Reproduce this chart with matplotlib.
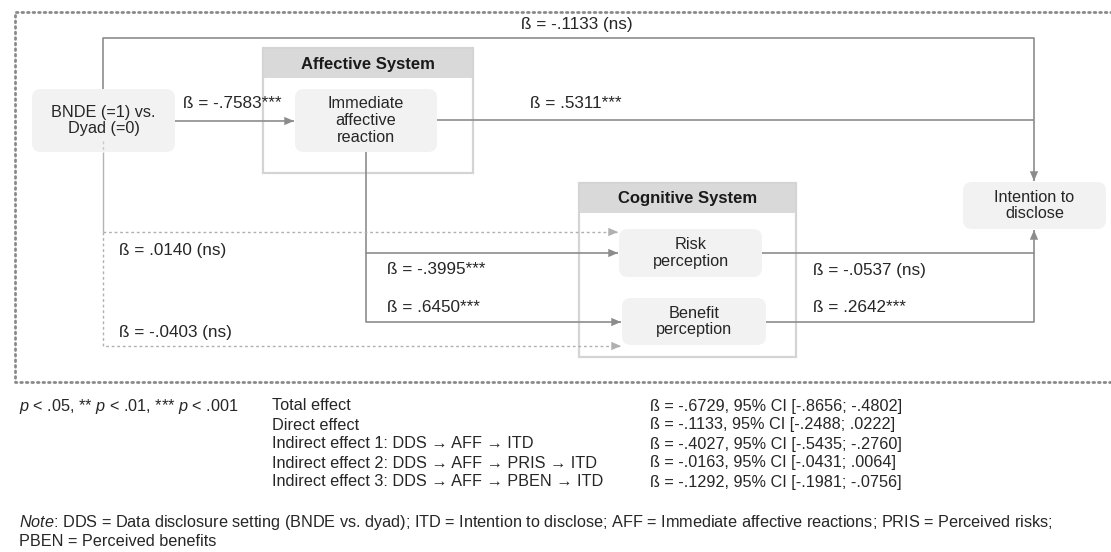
import matplotlib
matplotlib.use("Agg")
import matplotlib.pyplot as plt
from matplotlib.patches import Rectangle, FancyBboxPatch

plt.rcParams['font.family'] = ['Liberation Sans', 'DejaVu Sans']
plt.rcParams['mathtext.fontset'] = 'custom'
plt.rcParams['mathtext.rm'] = 'Liberation Sans'
plt.rcParams['mathtext.it'] = 'Liberation Sans:italic'
plt.rcParams['mathtext.bf'] = 'Liberation Sans:bold'

# ---------------- data ----------------
node_labels = {
    "DDS": "BNDE (=1) vs.\nDyad (=0)",
    "AFF": "Immediate\naffective\nreaction",
    "PRIS": "Risk\nperception",
    "PBEN": "Benefit\nperception",
    "ITD": "Intention to\ndisclose",
}
system_titles = ["Affective System", "Cognitive System"]

path_names = ["DDS->ITD", "DDS->AFF", "AFF->ITD", "DDS->PRIS", "DDS->PBEN",
              "AFF->PRIS", "AFF->PBEN", "PRIS->ITD", "PBEN->ITD"]
path_betas = ["-.1133", "-.7583", ".5311", ".0140", "-.0403",
              "-.3995", ".6450", "-.0537", ".2642"]
path_sig = ["(ns)", "***", "***", "(ns)", "(ns)", "***", "***", "(ns)", "***"]

effect_names = ["Total effect", "Direct effect",
                "Indirect effect 1: DDS \u2192 AFF \u2192 ITD",
                "Indirect effect 2: DDS \u2192 AFF \u2192 PRIS \u2192 ITD",
                "Indirect effect 3: DDS \u2192 AFF \u2192 PBEN \u2192 ITD"]
effect_beta = ["-.6729", "-.1133", "-.4027", "-.0163", "-.1292"]
effect_ci_low = ["-.8656", "-.2488", "-.5435", "-.0431", "-.1981"]
effect_ci_high = ["-.4802", ".0222", "-.2760", ".0064", "-.0756"]

sig_note = r"$\it{p}$ < .05, ** $\it{p}$ < .01, *** $\it{p}$ < .001"
note_lines = [r"$\it{Note}$: DDS = Data disclosure setting (BNDE vs. dyad); ITD = Intention to disclose; "
              "AFF = Immediate affective reactions; PRIS = Perceived risks;",
              "PBEN = Perceived benefits"]

# ---------------- layout ----------------
W, H = 1111, 552
fig = plt.figure(figsize=(W / 100, H / 100), dpi=100)
ax = fig.add_axes([0, 0, 1, 1])
ax.set_xlim(0, W)
ax.set_ylim(H, 0)
ax.axis("off")

LINE = "#8c8c8c"
DOT = "#b0b0b0"
TXT = "#262626"
NFS = 11.7   # node text
LFS = 12.3   # path labels
BFS = 11.7   # bottom text

# outer dotted frame
ax.plot([W + 5, 15, 15, W + 5], [12, 12, 382, 382], color="#8a8a8a", lw=2.0,
        linestyle=(0, (0.6, 1.4)), dash_capstyle="round", solid_capstyle="round", zorder=1)

# system boxes (x0, y0, x1, y1, header bottom)
systems = [(263, 48, 473, 173, 78), (579, 183, 796, 357, 213)]
for (x0, y0, x1, y1, hb), title in zip(systems, system_titles):
    ax.add_patch(Rectangle((x0, y0), x1 - x0, y1 - y0, facecolor="white",
                           edgecolor="#d4d4d4", lw=1.6, zorder=2))
    ax.add_patch(Rectangle((x0 + 1, y0 + 1), x1 - x0 - 2, hb - y0 - 1, facecolor="#d9d9d9",
                           edgecolor="none", zorder=2.1))
    ax.text((x0 + x1) / 2, (y0 + hb) / 2 + 1, title, ha="center", va="center",
            fontsize=12, fontweight="bold", color="#1a1a1a", zorder=3)

# nodes (x0, y0, x1, y1)
nodes = {"DDS": (32, 89, 175, 152), "AFF": (295, 89, 437, 152),
         "PRIS": (619, 229, 762, 277), "PBEN": (622, 298, 766, 345),
         "ITD": (963, 182, 1106, 229)}
for k, (x0, y0, x1, y1) in nodes.items():
    ax.add_patch(FancyBboxPatch((x0, y0), x1 - x0, y1 - y0,
                                boxstyle="round,pad=0,rounding_size=9",
                                facecolor="#f2f2f2", edgecolor="none", zorder=3))
    ax.text((x0 + x1) / 2, (y0 + y1) / 2, node_labels[k], ha="center", va="center",
            fontsize=NFS, color=TXT, linespacing=1.15, zorder=4)


def path(xs, ys, color=LINE, lw=1.2, ls="-", arrow=True, z=2.5):
    ax.plot(xs, ys, color=color, lw=lw, linestyle=ls, zorder=z, solid_capstyle="butt")
    if arrow:
        ax.annotate("", xy=(xs[-1], ys[-1]), xytext=(xs[-2], ys[-2]),
                    arrowprops=dict(arrowstyle="-|>,head_length=0.7,head_width=0.3",
                                    color=color, lw=0, shrinkA=0, shrinkB=0),
                    zorder=z + 0.1)


# direct path DDS -> ITD
path([103, 103, 1034, 1034], [89, 38, 38, 181])
# DDS -> AFF
path([175, 294], [121, 121])
# AFF -> ITD (joins direct path)
path([437, 1034], [120, 120], arrow=False)
# AFF -> PRIS / PBEN
path([366, 366, 618], [152, 253, 253])
path([366, 366, 621], [253, 322, 322])
# DDS -> PRIS / PBEN (dotted)
path([103, 103], [141, 152], color="#c8c8c8", lw=1.0, ls=(0, (2, 2)), arrow=False, z=4.5)
path([103, 103], [152, 232], color="#b4b4b4", lw=1.0, arrow=False)
path([103, 618], [232, 232], color=DOT, lw=1.0, ls=(0, (2, 2)))
path([103, 103, 621], [232, 346, 346], color=DOT, lw=1.0, ls=(0, (2, 2)))
# PRIS / PBEN -> ITD
path([762, 1034, 1034], [253, 253, 230])
path([766, 1034, 1034], [322, 322, 253], arrow=False)

# path labels (x, y, ha)
label_pos = [(577, 25, "center"), (183, 104, "left"), (530, 104, "left"),
             (119, 250, "left"), (119, 333, "left"), (387, 270, "left"),
             (387, 307, "left"), (813, 271, "left"), (813, 307, "left")]
for (x, y, ha), b, s in zip(label_pos, path_betas, path_sig):
    lab = f"\u00df = {b}" + (f" {s}" if s == "(ns)" else s)
    ax.text(x, y, lab, ha=ha, va="center", fontsize=LFS, color=TXT, zorder=5)

# bottom texts
ax.text(19, 406, sig_note, ha="left", va="center", fontsize=BFS, color=TXT)
for i, (n, b, lo, hi) in enumerate(zip(effect_names, effect_beta, effect_ci_low, effect_ci_high)):
    y = 406 + i * 19
    ax.text(272, y, n, ha="left", va="center", fontsize=BFS, color=TXT)
    ax.text(650, y, f"\u00df = {b}, 95% CI [{lo}; {hi}]", ha="left", va="center",
            fontsize=BFS, color=TXT)
for i, line in enumerate(note_lines):
    ax.text(19, 522 + i * 19, line, ha="left", va="center", fontsize=BFS, color=TXT)

fig.savefig("out.png", dpi=100)
